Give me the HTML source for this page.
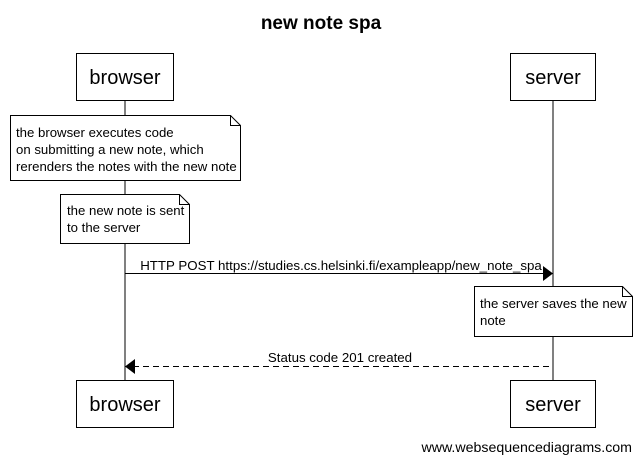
<!DOCTYPE html>
<html><head><style>body{margin:0;background:#fff}</style></head><body>
<svg width="642" height="463" xmlns="http://www.w3.org/2000/svg" font-family="Liberation Sans, Arial, sans-serif">
<rect width="642" height="463" fill="#fff"/>
<text x="321" y="29" font-size="19" font-weight="bold" text-anchor="middle">new note spa</text>
<line x1="125" y1="101" x2="125" y2="380" stroke="#000"/>
<line x1="553" y1="101" x2="553" y2="380" stroke="#000"/>
<rect x="76.5" y="53.5" width="97" height="47" fill="#fff" stroke="#000"/>
<text x="125" y="84" font-size="20" text-anchor="middle">browser</text>
<rect x="510.5" y="53.5" width="85" height="47" fill="#fff" stroke="#000"/>
<text x="553" y="84" font-size="20" text-anchor="middle">server</text>
<rect x="76.5" y="380.5" width="97" height="47" fill="#fff" stroke="#000"/>
<text x="125" y="411" font-size="20" text-anchor="middle">browser</text>
<rect x="510.5" y="380.5" width="85" height="47" fill="#fff" stroke="#000"/>
<text x="553" y="411" font-size="20" text-anchor="middle">server</text>
<path d="M10.5 115.5 H230.5 L240.5 125.5 V180.5 H10.5 Z" fill="#fff" stroke="#000"/>
<path d="M230.5 115.5 V125.5 H240.5" fill="none" stroke="#000"/>
<g font-size="13.2"><text x="16" y="137">the browser executes code</text><text x="16" y="154">on submitting a new note, which</text><text x="16" y="171">rerenders the notes with the new note</text></g>
<path d="M60.5 194.5 H179.5 L189.5 204.5 V243.5 H60.5 Z" fill="#fff" stroke="#000"/>
<path d="M179.5 194.5 V204.5 H189.5" fill="none" stroke="#000"/>
<g font-size="13.2"><text x="67" y="215">the new note is sent</text><text x="67" y="232">to the server</text></g>
<line x1="125" y1="273.5" x2="545" y2="273.5" stroke="#000"/>
<path d="M543 266 L553 273.5 L543 281 Z" fill="#000"/>
<text x="341" y="270" font-size="13.3" text-anchor="middle">HTTP POST https://studies.cs.helsinki.fi/exampleapp/new_note_spa</text>
<path d="M474.5 286.5 H622.5 L632.5 296.5 V336.5 H474.5 Z" fill="#fff" stroke="#000"/>
<path d="M622.5 286.5 V296.5 H632.5" fill="none" stroke="#000"/>
<g font-size="13.2"><text x="480" y="308">the server saves the new</text><text x="480" y="325">note</text></g>
<line x1="133" y1="366.5" x2="553" y2="366.5" stroke="#000" stroke-dasharray="6,4"/>
<path d="M135 359 L125 366.5 L135 374 Z" fill="#000"/>
<text x="340" y="362" font-size="13.3" text-anchor="middle">Status code 201 created</text>
<text x="632" y="452" font-size="14.2" text-anchor="end">www.websequencediagrams.com</text>
</svg>
</body></html>
